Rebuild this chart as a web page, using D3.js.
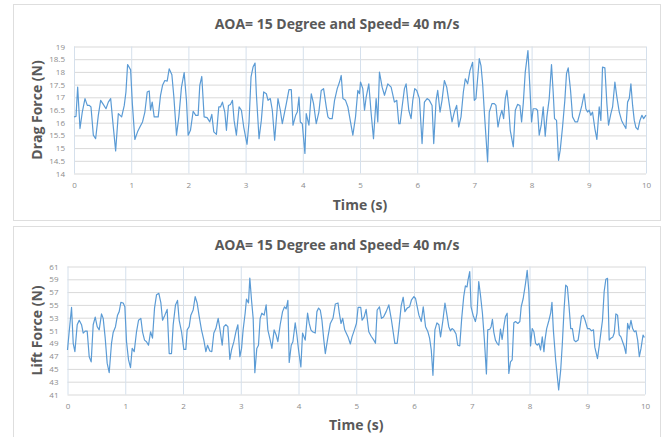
<!DOCTYPE html>
<html>
<head>
<meta charset="utf-8">
<script src="https://cdn.jsdelivr.net/npm/d3@7"></script>
<style>
  body { margin: 0; background: #fff; }
  svg { display: block; }
</style>
</head>
<body>
<svg id="chart" width="662" height="437"></svg>
<script>
// values, [time (s), force (N)]
const dragForce = [[0,16.23],[0.035,16.25],[0.064,17.4],[0.105,15.77],[0.145,16.42],[0.192,16.95],[0.233,16.68],[0.268,16.68],[0.297,16.62],[0.338,15.51],[0.378,15.37],[0.425,16.29],[0.466,16.88],[0.512,16.72],[0.559,16.55],[0.6,16.81],[0.641,16.95],[0.676,16.09],[0.728,14.89],[0.775,16.36],[0.833,16.23],[0.879,16.68],[0.908,17.21],[0.937,18.29],[0.99,18.08],[1.02,16.75],[1.064,15.34],[1.111,15.64],[1.152,15.83],[1.198,16.03],[1.239,16.42],[1.28,17.21],[1.315,17.25],[1.338,16.49],[1.367,16.81],[1.402,16.23],[1.472,16.23],[1.513,17.08],[1.548,17.47],[1.588,17.66],[1.629,17.64],[1.664,18.12],[1.711,17.89],[1.746,17.01],[1.792,15.51],[1.833,16.23],[1.879,17.4],[1.926,17.97],[1.966,16.88],[1.996,15.51],[2.036,15.7],[2.083,16.45],[2.129,16.29],[2.17,16.29],[2.199,17.47],[2.234,17.82],[2.275,16.23],[2.327,16.2],[2.374,16.03],[2.409,16.33],[2.444,15.64],[2.49,15.54],[2.531,16.62],[2.56,16.62],[2.595,16.81],[2.636,16.42],[2.665,15.7],[2.7,16.68],[2.735,16.72],[2.77,16.88],[2.799,16.09],[2.839,15.51],[2.886,16.62],[2.927,16.49],[2.967,15.83],[3.025,15.15],[3.06,16.03],[3.095,17.8],[3.13,18.19],[3.165,18.35],[3.188,17.14],[3.235,15.37],[3.275,16.09],[3.316,17.21],[3.363,17.14],[3.392,16.88],[3.432,16.95],[3.467,16.49],[3.508,15.31],[3.566,16.95],[3.607,16.49],[3.642,15.96],[3.712,16.75],[3.758,17.3],[3.799,17.3],[3.828,15.9],[3.875,16.29],[3.904,16.42],[3.933,17.01],[3.956,16.03],[3.991,15.96],[4.037,14.79],[4.06,16.36],[4.107,15.9],[4.148,17.14],[4.188,16.75],[4.235,15.96],[4.281,16.42],[4.322,17.27],[4.363,17.34],[4.41,16.62],[4.439,16.23],[4.468,16.16],[4.514,16.16],[4.555,16.88],[4.602,17.34],[4.642,17.6],[4.672,17.86],[4.701,16.95],[4.747,16.88],[4.788,16.62],[4.829,16.09],[4.875,15.51],[4.922,16.23],[4.962,17.27],[4.991,17.14],[5.009,17.6],[5.049,17.34],[5.079,16.49],[5.108,17.01],[5.154,17.53],[5.195,16.36],[5.236,15.37],[5.282,16.95],[5.311,16.03],[5.34,17.99],[5.387,17.4],[5.428,17.08],[5.486,17.53],[5.544,17.4],[5.602,16.81],[5.643,16.88],[5.678,15.96],[5.701,15.96],[5.736,16.62],[5.777,17.34],[5.806,17.53],[5.853,16.49],[5.893,16.16],[5.923,16.88],[5.957,17.34],[5.992,17.27],[6.039,16.95],[6.085,15.18],[6.126,16.81],[6.173,16.95],[6.213,16.88],[6.26,16.68],[6.289,15.18],[6.33,16.88],[6.359,17.27],[6.399,16.42],[6.434,16.88],[6.475,17.66],[6.516,17.4],[6.563,16.7],[6.609,16.03],[6.649,16.42],[6.69,16.68],[6.725,15.83],[6.766,16.23],[6.807,17.21],[6.841,17.73],[6.882,17.53],[6.923,18.06],[6.969,18.38],[6.998,16.88],[7.027,16.95],[7.056,17.73],[7.085,18.52],[7.115,18.25],[7.144,17.53],[7.179,16.23],[7.231,14.46],[7.26,16.42],[7.307,16.75],[7.348,16.75],[7.377,16.68],[7.412,15.83],[7.447,16.23],[7.481,16.49],[7.511,16.16],[7.54,16.95],[7.569,17.27],[7.598,16.62],[7.627,15.7],[7.68,15.05],[7.715,16.49],[7.755,16.72],[7.796,16.68],[7.825,16.03],[7.854,16.75],[7.889,17.99],[7.936,18.84],[7.97,17.4],[7.999,16.03],[8.028,16.55],[8.075,16.55],[8.104,16.49],[8.133,15.51],[8.168,15.9],[8.203,16.62],[8.238,15.47],[8.267,16.23],[8.308,16.95],[8.348,18.29],[8.377,17.21],[8.401,16.16],[8.436,16.09],[8.471,14.52],[8.5,14.92],[8.541,15.83],[8.581,16.88],[8.61,17.93],[8.64,18.16],[8.681,17.27],[8.716,16.23],[8.762,16.03],[8.803,16.03],[8.849,16.42],[8.879,16.68],[8.919,17.14],[8.949,16.55],[8.978,16.42],[9.007,16.49],[9.036,16.29],[9.065,16.42],[9.106,15.77],[9.141,15.34],[9.182,16.62],[9.211,16.09],[9.24,18.19],[9.281,18.16],[9.316,16.75],[9.345,15.9],[9.386,16.36],[9.416,16.62],[9.456,17.6],[9.491,17.01],[9.532,16.42],[9.573,16.09],[9.602,15.96],[9.649,15.77],[9.678,16.81],[9.707,16.95],[9.736,17.53],[9.766,16.68],[9.795,16.09],[9.824,15.81],[9.859,15.73],[9.894,16.09],[9.929,16.29],[9.958,16.16],[10,16.3]];

const liftForce = [[0,47.95],[0.029,50.8],[0.07,54.6],[0.099,49.0],[0.128,47.7],[0.168,51.9],[0.203,52.6],[0.243,51.9],[0.272,50.6],[0.307,50.9],[0.341,50.9],[0.376,46.9],[0.41,46.1],[0.445,51.9],[0.48,53.1],[0.514,51.6],[0.549,51.1],[0.589,53.6],[0.618,52.9],[0.653,49.8],[0.687,45.9],[0.722,44.4],[0.762,49.0],[0.791,50.7],[0.831,51.6],[0.866,53.4],[0.895,53.95],[0.924,55.4],[0.964,55.3],[0.993,54.7],[1.022,49.25],[1.057,46.4],[1.091,45.2],[1.12,48.2],[1.155,47.7],[1.195,50.8],[1.23,52.6],[1.27,52.9],[1.299,50.8],[1.334,49.5],[1.368,49.25],[1.403,48.7],[1.438,50.8],[1.472,49.8],[1.507,54.5],[1.542,56.6],[1.582,56.8],[1.617,55.3],[1.646,52.6],[1.686,53.4],[1.726,54.3],[1.761,47.4],[1.801,47.4],[1.83,51.9],[1.87,55.0],[1.905,55.7],[1.934,52.6],[1.975,50.8],[2.014,48.05],[2.049,48.05],[2.072,51.1],[2.107,51.6],[2.136,53.4],[2.176,54.2],[2.211,56.3],[2.245,55.3],[2.28,53.2],[2.32,51.1],[2.361,49.5],[2.396,47.7],[2.425,48.7],[2.464,47.8],[2.499,47.7],[2.534,50.6],[2.569,51.3],[2.609,52.9],[2.638,51.3],[2.679,48.7],[2.707,51.6],[2.742,51.9],[2.777,51.6],[2.811,46.5],[2.84,47.95],[2.881,49.25],[2.916,50.8],[2.95,51.9],[2.985,46.9],[3.014,48.2],[3.041,51.1],[3.076,53.7],[3.099,55.9],[3.134,55.3],[3.157,59.2],[3.186,55.8],[3.215,52.9],[3.244,44.4],[3.278,48.2],[3.307,48.7],[3.336,52.9],[3.365,53.7],[3.405,53.4],[3.44,55.0],[3.469,51.1],[3.51,49.5],[3.539,48.2],[3.578,51.1],[3.613,50.3],[3.642,49.25],[3.683,51.9],[3.724,53.95],[3.758,54.7],[3.787,54.4],[3.816,55.7],[3.839,46.0],[3.874,48.7],[3.903,49.25],[3.943,52.2],[3.972,50.3],[4.001,47.95],[4.041,45.3],[4.07,50.6],[4.116,49.5],[4.157,53.7],[4.186,52.1],[4.215,51.1],[4.244,50.8],[4.29,50.6],[4.319,53.95],[4.348,54.5],[4.377,54.2],[4.406,52.6],[4.435,49.8],[4.464,47.4],[4.51,50.0],[4.551,52.1],[4.597,52.9],[4.638,55.15],[4.684,55.3],[4.707,53.7],[4.736,52.1],[4.765,52.9],[4.8,51.1],[4.858,50.0],[4.898,48.9],[4.927,50.0],[4.968,51.1],[5.003,52.1],[5.032,54.6],[5.078,54.6],[5.101,52.6],[5.136,53.1],[5.171,54.3],[5.217,50.8],[5.258,50.1],[5.304,49.5],[5.333,49.0],[5.362,54.2],[5.402,54.7],[5.437,52.9],[5.472,53.1],[5.518,53.95],[5.564,55.0],[5.61,52.6],[5.668,49.0],[5.709,49.0],[5.738,51.3],[5.778,54.85],[5.813,56.2],[5.842,53.95],[5.882,54.5],[5.923,54.7],[5.957,55.8],[5.998,56.3],[6.027,56.0],[6.056,54.7],[6.085,53.4],[6.126,52.4],[6.16,54.7],[6.2,51.6],[6.241,50.8],[6.27,49.8],[6.299,47.95],[6.328,44.0],[6.362,51.1],[6.397,52.2],[6.431,51.9],[6.46,50.0],[6.501,52.6],[6.536,55.3],[6.565,53.7],[6.602,51.6],[6.63,50.95],[6.659,51.3],[6.688,51.1],[6.728,50.45],[6.757,48.7],[6.792,48.6],[6.826,52.9],[6.861,56.3],[6.89,57.97],[6.918,57.8],[6.936,58.9],[6.965,60.2],[6.988,54.7],[7.023,53.4],[7.063,52.4],[7.092,53.7],[7.121,58.65],[7.15,56.6],[7.185,53.7],[7.219,49.5],[7.254,44.2],[7.277,51.1],[7.312,51.2],[7.335,51.6],[7.358,52.75],[7.381,50.8],[7.41,49.5],[7.439,49.0],[7.468,48.7],[7.497,51.2],[7.526,49.6],[7.555,51.6],[7.584,53.2],[7.613,53.7],[7.642,44.3],[7.671,46.1],[7.7,46.4],[7.729,52.2],[7.758,52.4],[7.798,52.1],[7.833,52.4],[7.856,54.7],[7.891,56.0],[7.932,58.4],[7.96,60.4],[7.989,57.1],[8.018,48.6],[8.047,51.3],[8.076,50.8],[8.105,49.0],[8.134,48.7],[8.163,49.0],[8.192,47.95],[8.221,50.0],[8.25,47.7],[8.268,49.5],[8.297,51.3],[8.337,52.6],[8.366,53.7],[8.389,55.4],[8.413,51.1],[8.453,46.4],[8.505,41.7],[8.54,44.8],[8.569,49.0],[8.598,54.2],[8.627,58.1],[8.656,57.8],[8.685,54.7],[8.714,51.3],[8.743,51.3],[8.772,49.5],[8.801,49.25],[8.842,49.5],[8.871,51.3],[8.9,53.2],[8.929,53.4],[8.963,52.6],[9.004,51.3],[9.039,51.3],[9.073,50.95],[9.108,51.1],[9.131,48.4],[9.177,46.6],[9.206,48.5],[9.235,50.6],[9.264,52.6],[9.293,57.1],[9.322,59.0],[9.351,59.15],[9.38,49.5],[9.409,49.8],[9.444,50.0],[9.467,50.6],[9.496,53.6],[9.525,53.4],[9.554,50.3],[9.583,50.0],[9.612,49.25],[9.641,48.5],[9.67,47.4],[9.699,52.1],[9.728,51.2],[9.757,52.6],[9.786,51.3],[9.815,50.8],[9.844,50.95],[9.873,49.5],[9.902,46.9],[9.931,48.2],[9.966,50.3],[9.989,49.9]];

const timeTicks = [0, 1, 2, 3, 4, 5, 6, 7, 8, 9, 10];
const dragTicks = [14, 14.5, 15, 15.5, 16, 16.5, 17, 17.5, 18, 18.5, 19];
const liftTicks = [41, 43, 45, 47, 49, 51, 53, 55, 57, 59, 61];

const chartTitle = "AOA= 15 Degree and Speed= 40 m/s";

const svg = d3.select("#chart");
const font = "'Open Sans', 'DejaVu Sans', sans-serif";

function drawPanel(opts) {
    const g = svg.append("g");

    // outer frame of the panel
    g.append("rect")
        .attr("x", opts.frame[0]).attr("y", opts.frame[1])
        .attr("width", opts.frame[2]).attr("height", opts.frame[3])
        .attr("fill", "#fff")
        .attr("stroke", "#dedede")
        .attr("stroke-width", 1);

    const x = d3.scaleLinear().domain([0, 10]).range([opts.left, opts.right]);
    const y = d3.scaleLinear().domain(d3.extent(opts.ticks)).range([opts.bottom, opts.top]);

    // horizontal grid
    g.append("g")
        .attr("transform", `translate(${opts.left},0)`)
        .call(d3.axisLeft(y).tickValues(opts.ticks).tickSize(-(opts.right - opts.left)).tickFormat(""))
        .call(a => a.select(".domain").remove())
        .call(a => a.selectAll("line").attr("stroke", "#d9d9d9"));

    // vertical grid
    g.append("g")
        .attr("transform", `translate(0,${opts.bottom})`)
        .call(d3.axisBottom(x).tickValues(timeTicks).tickSize(-(opts.bottom - opts.top)).tickFormat(""))
        .call(a => a.select(".domain").remove())
        .call(a => a.selectAll("line").attr("stroke", "#d5e0ec"));

    // tick labels
    g.append("g")
        .attr("transform", `translate(${opts.left},0)`)
        .call(d3.axisLeft(y).tickValues(opts.ticks).tickSize(0).tickPadding(9).tickFormat(d => d))
        .call(a => a.select(".domain").remove())
        .call(a => a.selectAll("text").attr("fill", "#8c8c8c").style("font-size", "8px").style("font-family", font));

    g.append("g")
        .attr("transform", `translate(0,${opts.bottom})`)
        .call(d3.axisBottom(x).tickValues(timeTicks).tickSize(0).tickPadding(9).tickFormat(d => d))
        .call(a => a.select(".domain").remove())
        .call(a => a.selectAll("text").attr("fill", "#8c8c8c").style("font-size", "8px").style("font-family", font));

    const line = d3.line().x(d => x(d[0])).y(d => y(d[1]));

    g.append("path")
        .datum(opts.data)
        .attr("d", line)
        .attr("fill", "none")
        .attr("stroke", "#5b9bd5")
        .attr("stroke-width", 1.2)
        .attr("stroke-linejoin", "round");

    g.append("text")
        .attr("x", opts.titleX).attr("y", opts.titleY)
        .attr("text-anchor", "middle")
        .attr("fill", "#595959")
        .style("font-family", font).style("font-weight", "bold").style("font-size", "14px")
        .text(chartTitle);

    g.append("text")
        .attr("x", (opts.left + opts.right) / 2).attr("y", opts.xLabelY)
        .attr("text-anchor", "middle")
        .attr("fill", "#595959")
        .style("font-family", font).style("font-weight", "bold").style("font-size", "14px")
        .text("Time (s)");

    g.append("text")
        .attr("transform", `translate(${opts.yLabelX},${(opts.top + opts.bottom) / 2}) rotate(-90)`)
        .attr("text-anchor", "middle")
        .attr("fill", "#595959")
        .style("font-family", font).style("font-weight", "bold").style("font-size", "14px")
        .text(opts.yLabel);
}

drawPanel({
    data: dragForce, ticks: dragTicks, yLabel: "Drag Force (N)",
    frame: [13.5, 4.5, 647, 216],
    left: 74, right: 646, top: 46.5, bottom: 173.5,
    titleX: 337, titleY: 29, xLabelY: 210, yLabelX: 42
});

drawPanel({
    data: liftForce, ticks: liftTicks, yLabel: "Lift Force (N)",
    frame: [13.5, 226.5, 647, 216],
    left: 67.5, right: 645, top: 266.5, bottom: 394.5,
    titleX: 337, titleY: 250, xLabelY: 430, yLabelX: 42
});
</script>
</body>
</html>
